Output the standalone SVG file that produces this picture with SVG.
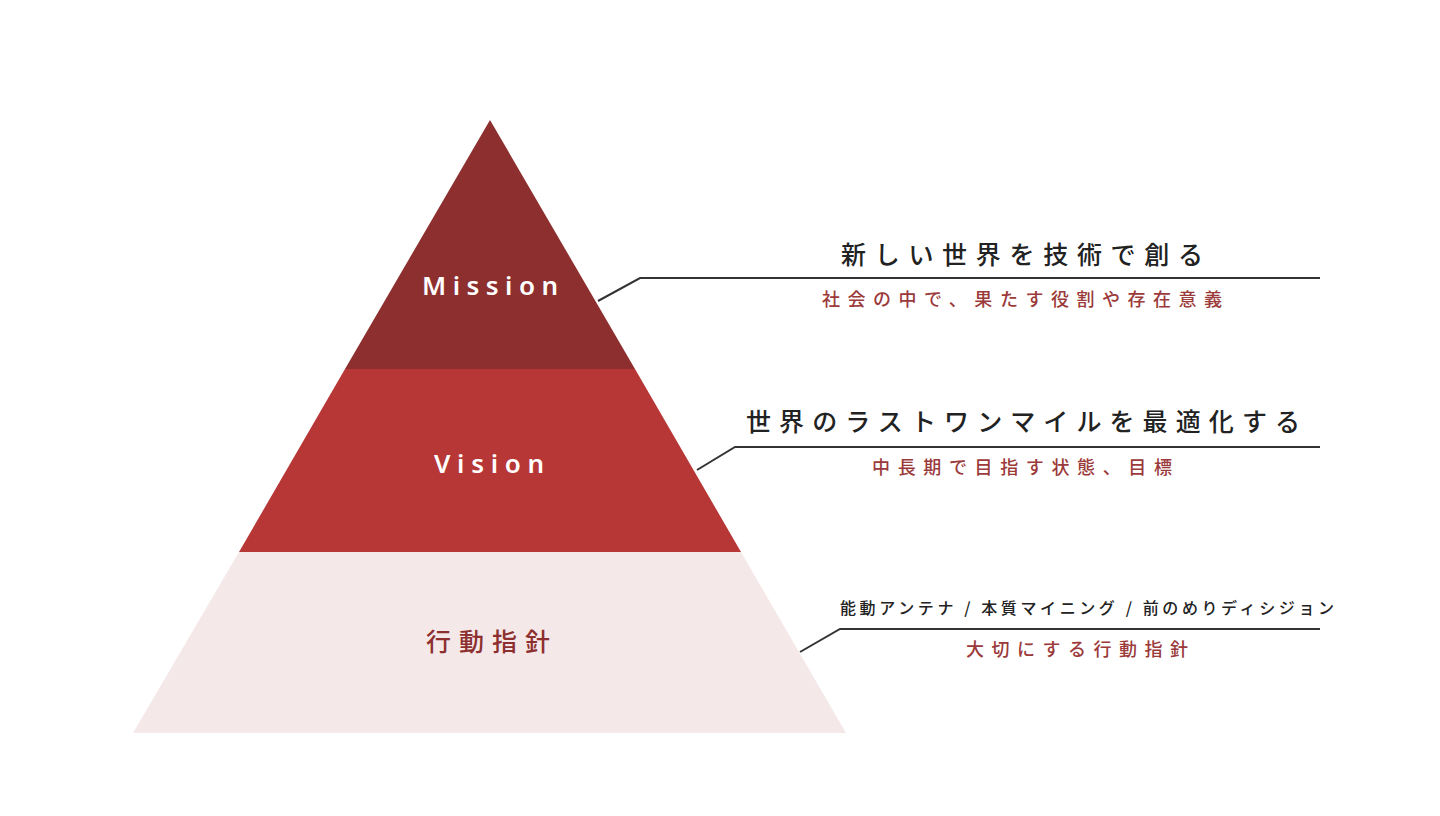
<svg xmlns="http://www.w3.org/2000/svg" width="1440" height="816" viewBox="0 0 1440 816">
<style>
.lbl{font-family:"Noto Sans","Noto Sans CJK JP",sans-serif;font-weight:600;fill:#fff;font-size:26px;text-anchor:middle;dominant-baseline:central;}
.jp{font-family:"Noto Sans CJK JP",sans-serif;text-anchor:middle;dominant-baseline:central;}
.head{font-size:25px;fill:#222;font-weight:500;}
.sub{font-size:18px;fill:#9b3a3a;font-weight:500;}
.small{font-size:16px;fill:#222;font-weight:500;}
.conn{fill:none;stroke:#333;stroke-width:2;}
</style>
<rect width="1440" height="816" fill="#fff"/>
<g id="node-mission">
<polygon points="490,120 635,369 345,369" fill="#8c2f2e"/>
<text class="lbl" x="490" y="285" textLength="136" lengthAdjust="spacing">Mission</text>
</g>
<g id="node-vision">
<polygon points="345,369 635,369 741,552 239,552" fill="#b73636"/>
<text class="lbl" x="489" y="463" textLength="110" lengthAdjust="spacing">Vision</text>
</g>
<g id="node-policy">
<polygon points="239,552 741,552 846,733 133,733" fill="#f5e8e9"/>
<text class="jp" x="488" y="640" font-size="25" fill="#8c2f2e" font-weight="500" textLength="124" lengthAdjust="spacing">行動指針</text>
</g>
<g id="connectors">
<polyline class="conn" points="598,301 640,278 1320,278"/>
<polyline class="conn" points="697,470 735,447 1320,447"/>
<polyline class="conn" points="800,652 840,629 1320,629"/>
</g>
<g id="text-mission">
<text class="jp head" x="1022" y="253" textLength="362" lengthAdjust="spacing">新しい世界を技術で創る</text>
<text class="jp sub" x="1022" y="298" textLength="400" lengthAdjust="spacing">社会の中で、果たす役割や存在意義</text>
</g>
<g id="text-vision">
<text class="jp head" x="1023" y="420" textLength="554" lengthAdjust="spacing">世界のラストワンマイルを最適化する</text>
<text class="jp sub" x="1022" y="466" textLength="300" lengthAdjust="spacing">中長期で目指す状態、目標</text>
</g>
<g id="text-policy">
<text class="jp small" x="1087" y="607" textLength="494" lengthAdjust="spacing">能動アンテナ / 本質マイニング / 前のめりディシジョン</text>
<text class="jp sub" x="1077" y="648" textLength="222" lengthAdjust="spacing">大切にする行動指針</text>
</g>
</svg>
